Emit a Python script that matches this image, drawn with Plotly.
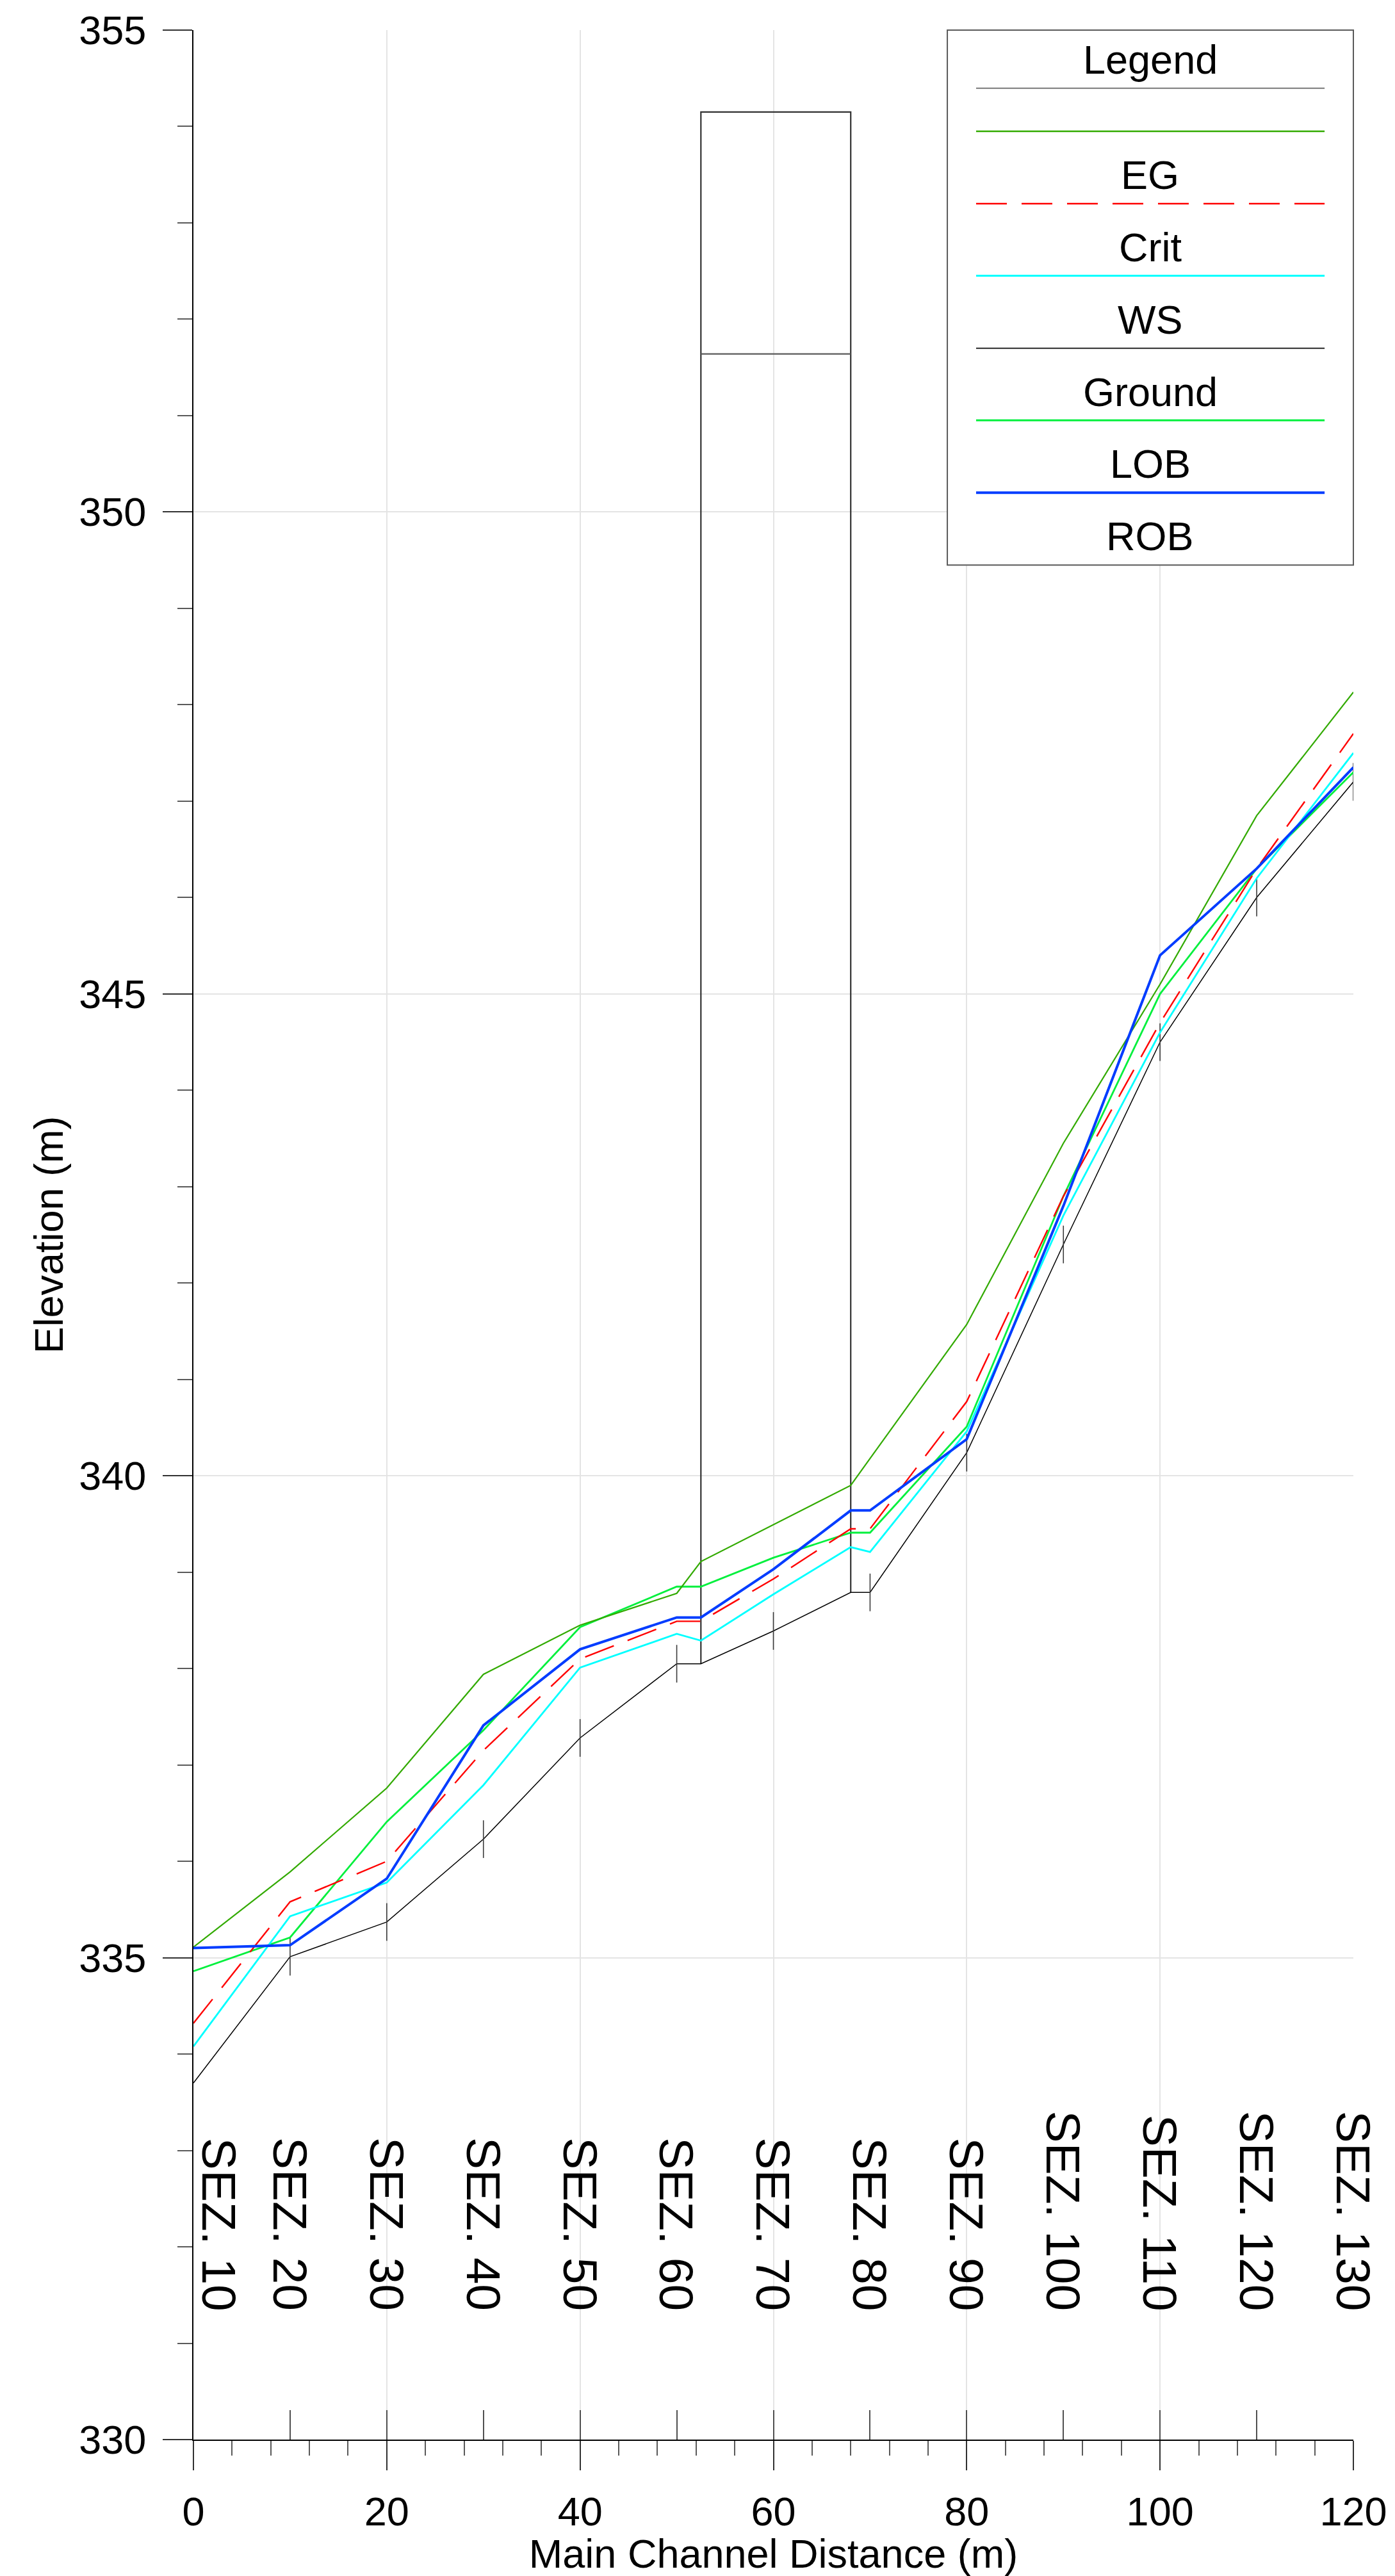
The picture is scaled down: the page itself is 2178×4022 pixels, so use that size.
import plotly.graph_objects as go

# ---------------- data ----------------
station = [0, 10, 20, 30, 40, 50, 52.5, 60, 68, 70, 80, 90, 100, 110, 120]
eg     = [335.11, 335.89, 336.76, 337.94, 338.45, 338.78, 339.11, 339.49, 339.90, 340.18, 341.57, 343.45, 345.10, 346.85, 348.13]
crit   = [334.32, 335.58, 336.00, 337.15, 338.10, 338.49, 338.49, 338.93, 339.45, 339.45, 340.77, 342.90, 344.70, 346.30, 347.70]
ws     = [334.08, 335.43, 335.78, 336.79, 338.01, 338.36, 338.29, 338.77, 339.26, 339.21, 340.46, 342.70, 344.60, 346.20, 347.50]
ground = [333.70, 335.01, 335.37, 336.23, 337.28, 338.05, 338.05, 338.39, 338.79, 338.79, 340.24, 342.40, 344.50, 346.00, 347.20]
lob    = [334.86, 335.21, 336.41, 337.36, 338.43, 338.85, 338.85, 339.15, 339.41, 339.41, 340.51, 342.90, 345.00, 346.30, 347.30]
rob    = [335.10, 335.13, 335.82, 337.41, 338.20, 338.53, 338.53, 339.03, 339.64, 339.64, 340.38, 342.80, 345.40, 346.30, 347.35]

bridge_x = [52.5, 68]
deck_top = 354.15
low_chord = 351.64

section_x = [0, 10, 20, 30, 40, 50, 60, 70, 80, 90, 100, 110, 120]
section_labels = ["SEZ. 10", "SEZ. 20", "SEZ. 30", "SEZ. 40", "SEZ. 50", "SEZ. 60", "SEZ. 70",
                  "SEZ. 80", "SEZ. 90", "SEZ. 100", "SEZ. 110", "SEZ. 120", "SEZ. 130"]

legend_labels = ["Legend", "", "EG", "Crit", "WS", "Ground", "LOB", "ROB"]

# ---------------- styles ----------------
FONT = "Liberation Sans, Arial, sans-serif"
C_EG = "rgb(50,170,0)"
C_CRIT = "rgb(255,0,0)"
C_WS = "rgb(0,255,255)"
C_GROUND = "rgb(0,0,0)"
C_LOB = "rgb(0,240,60)"
C_ROB = "rgb(0,60,255)"
C_BRIDGE = "rgb(50,50,50)"
DASH = "48px,23px"

W, H = 2178, 4022
PL, PR, PT, PB = 302, 2116, 42.7, 3823.3

def px(X):
    return (X - PL) / (PR - PL)

def py(Y):
    return (PB - Y) / (PB - PT)

fig = go.Figure()

# bridge outline
g_at = dict(zip(station, ground))
fig.add_trace(go.Scatter(
    x=[bridge_x[0], bridge_x[0], bridge_x[1], bridge_x[1]],
    y=[g_at[bridge_x[0]], deck_top, deck_top, g_at[bridge_x[1]]],
    mode="lines", line=dict(color=C_BRIDGE, width=2.2), hoverinfo="skip", showlegend=False))
fig.add_trace(go.Scatter(
    x=bridge_x, y=[low_chord, low_chord],
    mode="lines", line=dict(color="rgb(90,90,90)", width=2.2), hoverinfo="skip", showlegend=False))

# series
fig.add_trace(go.Scatter(x=station, y=ground, mode="lines", line=dict(color=C_GROUND, width=1.5), showlegend=False))
fig.add_trace(go.Scatter(x=[s for s in station if s in section_x and s > 0],
                         y=[g for s, g in zip(station, ground) if s in section_x and s > 0],
                         mode="markers", marker=dict(symbol="line-ns", size=42,
                                                     line=dict(color="rgb(60,60,60)", width=1.6)),
                         hoverinfo="skip", showlegend=False))
fig.add_trace(go.Scatter(x=station, y=lob, mode="lines", line=dict(color=C_LOB, width=2.8), showlegend=False))
fig.add_trace(go.Scatter(x=station, y=eg, mode="lines", line=dict(color=C_EG, width=2.2), showlegend=False))
fig.add_trace(go.Scatter(x=station, y=ws, mode="lines", line=dict(color=C_WS, width=2.8), showlegend=False))
fig.add_trace(go.Scatter(x=station, y=crit, mode="lines", line=dict(color=C_CRIT, width=2.4, dash=DASH), showlegend=False))
fig.add_trace(go.Scatter(x=station, y=rob, mode="lines", line=dict(color=C_ROB, width=4), showlegend=False))

# helper trace on overlay axis for upward section ticks
fig.add_trace(go.Scatter(x=section_x, y=ground[:1] * len(section_x), xaxis="x2", mode="markers",
                         marker=dict(opacity=0), hoverinfo="skip", showlegend=False))

# section labels
for sx, lab in zip(section_x, section_labels):
    fig.add_annotation(x=sx, y=331.32, xref="x", yref="y", text=lab, textangle=90,
                       showarrow=False, xanchor="center", yanchor="bottom",
                       xshift=40 if sx == section_x[0] else 0,
                       font=dict(family=FONT, size=75, color="black"))

# ---------------- legend (drawn) ----------------
LX0, LX1, LY0, LY1 = 1481, 2116, 42.7, 882
shapes = [dict(type="rect", xref="paper", yref="paper", x0=px(LX0), x1=px(LX1), y0=py(LY1), y1=py(LY0),
               fillcolor="white", line=dict(color="rgb(90,90,90)", width=2), layer="above")]
line_y = [134, 201.5, 315, 428, 542, 655, 768.6]
line_styles = [dict(color="rgb(120,120,120)", width=2),
               dict(color=C_EG, width=2.5),
               dict(color=C_CRIT, width=2.5, dash=DASH),
               dict(color=C_WS, width=3),
               dict(color="rgb(40,40,40)", width=2),
               dict(color=C_LOB, width=3),
               dict(color=C_ROB, width=4)]
for yy, st in zip(line_y, line_styles):
    shapes.append(dict(type="line", xref="paper", yref="paper", x0=px(1526), x1=px(2071),
                       y0=py(yy), y1=py(yy), line=st, layer="above"))
label_y = [89, 150, 270, 383.5, 496.6, 610, 723, 836.4]
for yy, lab in zip(label_y, legend_labels):
    if lab:
        fig.add_annotation(x=px(1798), y=py(yy), xref="paper", yref="paper", text=lab,
                           showarrow=False, xanchor="center", yanchor="middle",
                           font=dict(family=FONT, size=63, color="black"))

axis_common = dict(
    showline=True, linecolor="black", linewidth=2,
    ticks="outside", ticklen=46, tickwidth=2, tickcolor="rgb(50,50,50)",
    showgrid=True, gridcolor="rgb(228,228,228)", gridwidth=2, zeroline=False,
    tickfont=dict(family=FONT, size=63, color="black"),
)

fig.update_layout(
    width=W, height=H,
    margin=dict(l=PL, r=W - PR, t=round(PT), b=round(H - PB)),
    paper_bgcolor="white", plot_bgcolor="white",
    showlegend=False,
    shapes=shapes,
    xaxis=dict(range=[0, 120], dtick=20, tick0=0,
               minor=dict(dtick=4, tick0=0, ticks="outside", ticklen=23, tickwidth=2,
                          tickcolor="rgb(90,90,90)", showgrid=False),
               title=dict(text="Main Channel Distance (m)", font=dict(family=FONT, size=63, color="black"),
                          standoff=10),
               ticklabelstandoff=10,
               **axis_common),
    xaxis2=dict(range=[0, 120], overlaying="x", anchor="y", side="bottom", dtick=10, tick0=0,
                ticks="inside", ticklen=46, tickwidth=2, tickcolor="rgb(80,80,80)",
                showticklabels=False, showgrid=False, showline=False, zeroline=False),
    yaxis=dict(range=[330, 355], dtick=5, tick0=330,
               minor=dict(dtick=1, tick0=330, ticks="outside", ticklen=23, tickwidth=2,
                          tickcolor="rgb(90,90,90)", showgrid=False),
               title=dict(text="Elevation (m)", font=dict(family=FONT, size=63, color="black"),
                          standoff=4),
               ticklabelstandoff=13,
               **axis_common),
)

fig.write_html("out.html", config={"displayModeBar": False},
               post_script="document.body.style.margin='0';document.body.style.overflow='hidden';")
